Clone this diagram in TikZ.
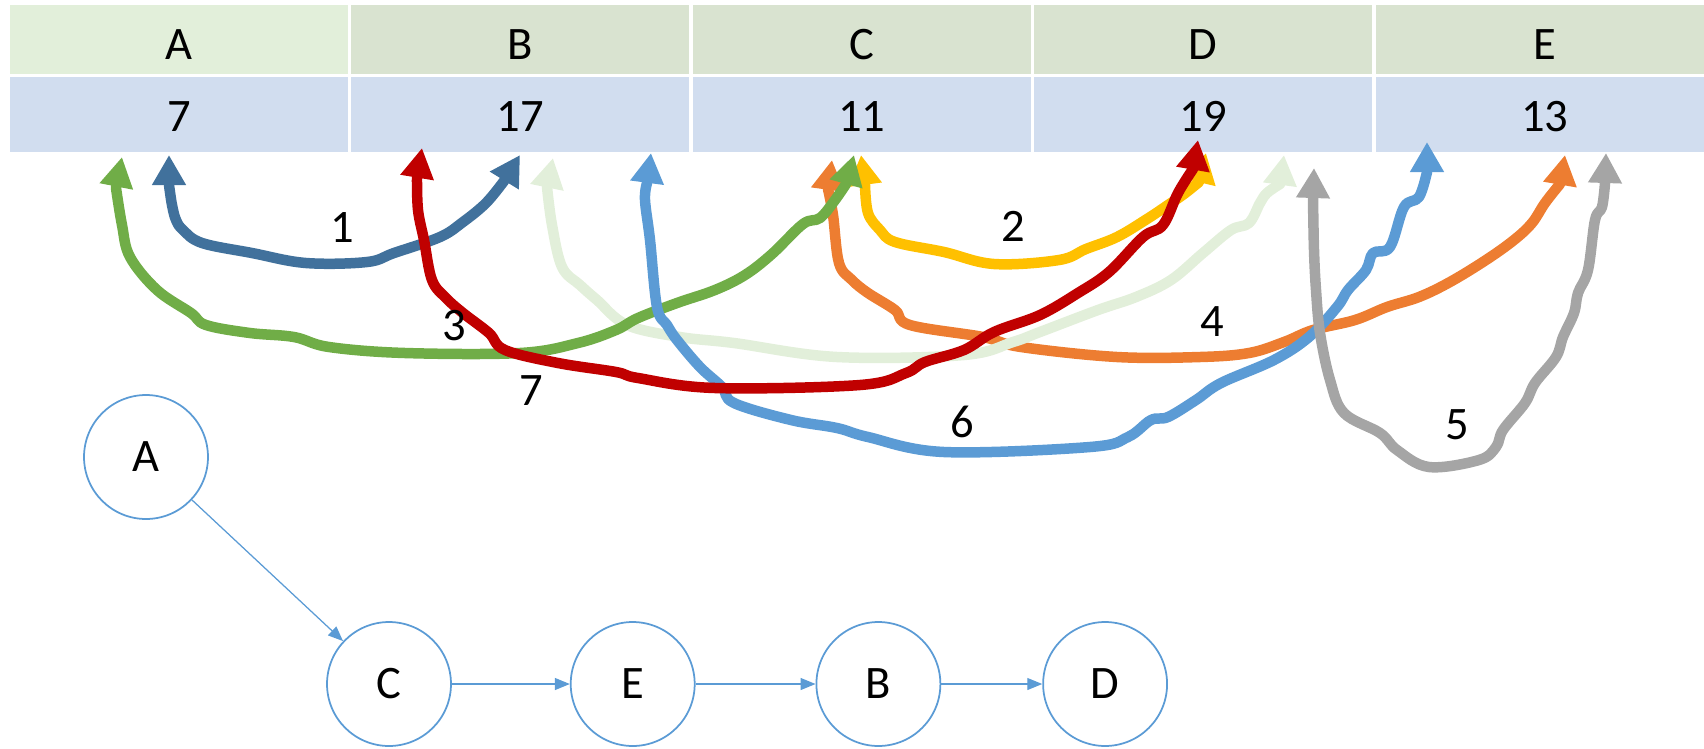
\documentclass[tikz,border=0pt]{standalone}
\usepackage{fontspec}
\setmainfont{Carlito}
\usetikzlibrary{positioning, arrows.meta}
\definecolor{headgreen}{HTML}{E2EFDA}
\definecolor{headsage}{HTML}{D9E3D0}
\definecolor{rowblue}{HTML}{D1DDEF}
\definecolor{linksteel}{HTML}{41719C}
\definecolor{linkyellow}{HTML}{FFC000}
\definecolor{linkgreen}{HTML}{70AD47}
\definecolor{linkorange}{HTML}{ED7D31}
\definecolor{linkgray}{HTML}{A5A5A5}
\definecolor{linkblue}{HTML}{5B9BD5}
\definecolor{linkred}{HTML}{C00000}
\definecolor{linkpale}{HTML}{E2EFDA}

\begin{document}
\begin{tikzpicture}[
    x=0.02cm, y=-0.02cm,
    every node/.style={font=\fontsize{26.5}{32}\selectfont},
    cell/.style={
        rectangle, inner sep=0pt, outer sep=0pt, minimum width=6.76cm
    },
    headcell/.style={
        cell, fill=headsage, minimum height=1.38cm,
        text height=0.8cm, text depth=0.02cm
    },
    valcell/.style={
        cell, fill=rowblue, minimum height=1.5cm,
        text height=0.68cm, text depth=0pt
    },
    link/.style={
        line width=0.21cm, line join=round,
        {Triangle[length=0.6cm,width=0.64cm]}-{Triangle[length=0.6cm,width=0.64cm]}
    },
    vertex/.style={
        circle, draw=linkblue, line width=0.035cm, minimum size=2.48cm,
        inner sep=0pt
    },
    flow/.style={-{Triangle[length=0.3cm,width=0.24cm]}, draw=linkblue, fill=linkblue, line width=0.025cm},
]
\useasboundingbox (0,0) rectangle (1704,748);

% Table (top rows)
\node[headcell, fill=headgreen] (hA) at (179,39.5) {A};
\node[headcell, right=0.07cm of hA] (hB) {B};
\node[headcell, right=0.07cm of hB] (hC) {C};
\node[headcell, right=0.07cm of hC] (hD) {D};
\node[headcell, right=0.07cm of hD] (hE) {E};

\node[valcell, below=0.06cm of hA] (vA) {7};
\node[valcell, right=0.07cm of vA] (vB) {17};
\node[valcell, right=0.07cm of vB] (vC) {11};
\node[valcell, right=0.07cm of vC] (vD) {19};
\node[valcell, right=0.07cm of vD] (vE) {13};

% Link ends under the cells
\coordinate (a1) at (169,155);
\coordinate (b1) at (520,155);
\coordinate (c2) at (861,155);
\coordinate (d2) at (1206,153);
\coordinate (a3) at (122,157);
\coordinate (c3) at (854,155);
\coordinate (c4) at (832,160);
\coordinate (e4) at (1565,155);
\coordinate (d5) at (1314,168);
\coordinate (e5) at (1606,153);
\coordinate (b6) at (651,153);
\coordinate (e6) at (1427,142);
\coordinate (b7) at (422,148);
\coordinate (d7) at (1198,140);
\coordinate (b8) at (553,158);
\coordinate (d8) at (1284,155);

% ── Links ──
\draw[link, linksteel] (a1) -- plot[smooth, tension=0.6] coordinates {(169,185) (172,205) (176,220) (183,230) (202,243) (252,253) (306,263) (367,262) (394,253) (440,237) (463,222) (486,203) (504,181)} -- (b1);
\draw[link, linkyellow] (c2) -- plot[smooth, tension=0.6] coordinates {(865,185) (868,213) (880,230) (895,242) (944,252) (994,264) (1059,260) (1086,249) (1117,237) (1147,219) (1168,205) (1184,194) (1199,182)} -- (d2);
\draw[link, linkorange] (c4) -- plot[smooth, tension=0.6] coordinates {(828,189) (833,215) (839,263) (852,280) (868,293) (895,310) (910,325) (983,337) (1021,347) (1117,357) (1200,357) (1249,353) (1284,342) (1313,330) (1355,320) (1387,307) (1419,297) (1450,282) (1486,260) (1514,240) (1532,223) (1545,203) (1560,184)} -- (e4);
\draw[link, linkpale] (b8) -- plot[smooth, tension=0.6] coordinates {(547,187) (552,225) (562,267) (580,285) (597,300) (627,325) (680,337) (734,343) (837,357) (964,355) (1013,342) (1040,332) (1098,310) (1136,297) (1171,280) (1203,253) (1231,230) (1249,223) (1260,203) (1267,193) (1280,184)} -- (d8);
\draw[link, linkgreen] (a3) -- plot[smooth, tension=0.6] coordinates {(116,188) (122,225) (130,257) (157,290) (191,313) (206,325) (250,333) (294,337) (329,347) (405,353) (520,353) (578,343) (616,330) (638,318) (677,303) (715,290) (745,275) (772,254) (803,224) (820,218) (835,200) (846,184)} -- (c3);
\draw[link, linkblue] (b6) -- plot[smooth, tension=0.6] coordinates {(647,183) (645,200) (650,240) (657,307) (667,325) (677,340) (700,367) (722,387) (734,403) (791,420) (837,428) (868,437) (944,452) (1090,447) (1128,437) (1151,420) (1168,417) (1196,400) (1221,383) (1274,360) (1309,337) (1337,307) (1348,290) (1366,270) (1373,253) (1390,247) (1404,207) (1419,197) (1427,172)} -- (e6);
\draw[link, linkgray] (d5) -- plot[smooth, tension=0.6] coordinates {(1313,198) (1314,250) (1316,290) (1320,333) (1330,380) (1344,413) (1380,433) (1397,450) (1429,467) (1479,460) (1496,447) (1503,430) (1525,403) (1535,383) (1556,357) (1563,337) (1574,313) (1578,293) (1588,270) (1595,220) (1602,207) (1605,183)} -- (e5);
\draw[link, linkred] (b7) -- plot[smooth, tension=0.6] coordinates {(417,178) (418,210) (424,240) (432,280) (446,298) (463,313) (489,333) (505,350) (558,363) (616,372) (638,378) (715,388) (860,385) (906,373) (925,362) (964,350) (994,332) (1040,315) (1078,293) (1109,272) (1143,237) (1163,225) (1178,193) (1193,169)} -- (d7);

% Weights
\node (w1) at (342,228) {1};
\node (w2) at (1013,226) {2};
\node (w3) at (454,326) {3};
\node (w4) at (1212,322) {4};
\node (w5) at (1457,425) {5};
\node (w6) at (962,422) {6};
\node (w7) at (531,391) {7};

% Tree (bottom)
\node[vertex] (gA) at (146,457) {A};
\node[vertex] (gC) at (389,684) {C};
\node[vertex, right=2.36cm of gC] (gE) {E};
\node[vertex, right=2.4cm of gE] (gB) {B};
\node[vertex, right=2.02cm of gB] (gD) {D};

\draw[flow] (gA) -- (gC);
\draw[flow] (gC) -- (gE);
\draw[flow] (gE) -- (gB);
\draw[flow] (gB) -- (gD);

\end{tikzpicture}
\end{document}
